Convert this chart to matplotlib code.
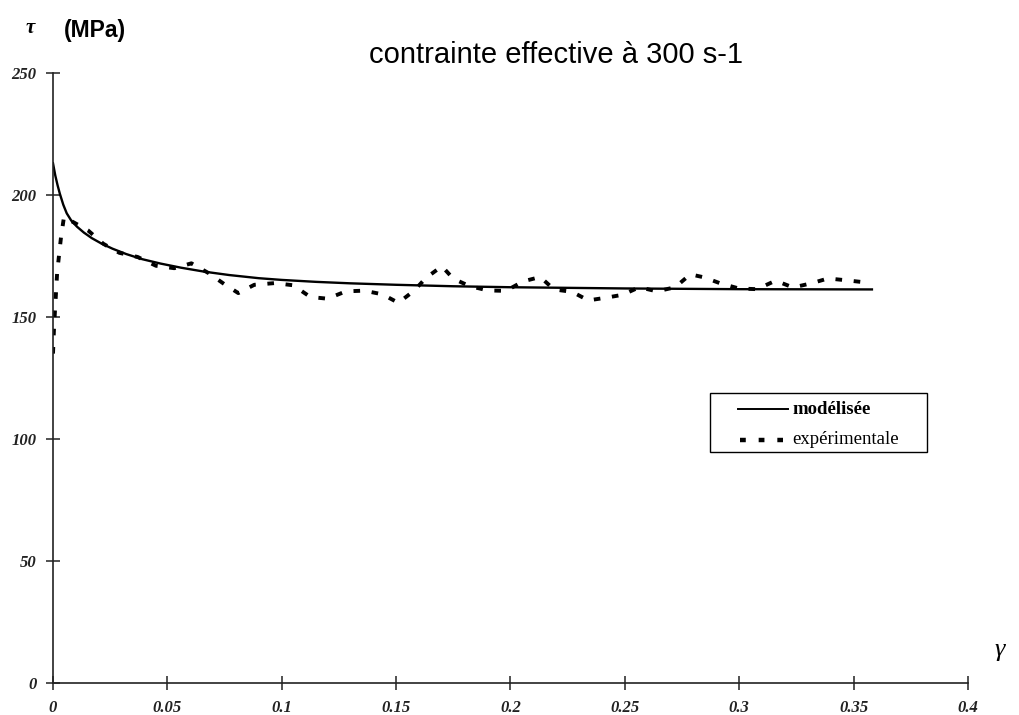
import matplotlib
matplotlib.use("Agg")
import matplotlib.pyplot as plt
from matplotlib.lines import Line2D
from matplotlib.patches import Rectangle

# ---- data ----
model_gamma = [0.0, 0.001, 0.002, 0.003, 0.0045, 0.006, 0.008, 0.0105, 0.0135,
               0.017, 0.021, 0.026, 0.032, 0.039, 0.047, 0.056, 0.066, 0.077,
               0.09, 0.1, 0.115, 0.13, 0.15, 0.175, 0.2, 0.25, 0.3, 0.358]
model_tau = [213.0, 208.0, 204.0, 200.5, 196.0, 192.5, 189.5, 187.0, 184.6,
             182.3, 180.2, 178.0, 175.8, 173.7, 171.9, 170.2, 168.6, 167.2,
             165.9, 165.2, 164.4, 163.8, 163.2, 162.6, 162.2, 161.7, 161.4, 161.3]

exp_gamma = [0.0, 0.0004, 0.0008, 0.0013, 0.0018, 0.0026, 0.0035, 0.0048,
             0.0153, 0.022, 0.029, 0.037, 0.045, 0.053, 0.0605, 0.068, 0.075,
             0.081, 0.088, 0.097, 0.105, 0.1125, 0.12, 0.128, 0.136, 0.144,
             0.151, 0.158, 0.163, 0.170, 0.175, 0.182, 0.19, 0.198, 0.2055,
             0.213, 0.219, 0.227, 0.234, 0.2417, 0.249, 0.2563, 0.264, 0.272,
             0.2786, 0.2848, 0.2917, 0.2998, 0.3078, 0.3159, 0.3235, 0.3315,
             0.3388, 0.3473, 0.3559]
exp_tau = [135.0, 144.5, 151.5, 159.7, 168.0, 175.0, 182.7, 191.0,
           185.5, 180.0, 176.3, 174.6, 171.0, 170.0, 172.0, 168.0, 163.4,
           159.8, 163.2, 163.9, 163.0, 158.2, 157.5, 160.5, 160.8, 159.3,
           155.8, 160.9, 166.0, 170.8, 165.7, 162.7, 160.9, 160.7, 164.6,
           166.4, 161.3, 160.3, 156.8, 157.9, 159.1, 162.2, 160.5, 162.2,
           167.5, 166.2, 163.8, 161.7, 161.4, 164.9, 162.1, 163.8,
           165.8, 165.0, 164.1]

x_ticks = [0, 0.05, 0.1, 0.15, 0.2, 0.25, 0.3, 0.35, 0.4]
x_ticklabels = ["0", "0.05", "0.1", "0.15", "0.2", "0.25", "0.3", "0.35", "0.4"]
y_ticks = [0, 50, 100, 150, 200, 250]
y_ticklabels = ["0", "50", "100", "150", "200", "250"]

title = "contrainte effective à 300 s-1"
label_model = "modélisée"
label_exp = "expérimentale"

# ---- figure ----
W, H = 1019, 715
fig = plt.figure(figsize=(W / 100, H / 100), dpi=100)
ax = fig.add_axes([53 / W, 1 - 683 / H, (968 - 53) / W, (683 - 73) / H])

ax.plot(model_gamma, model_tau, color="black", lw=1.7, solid_joinstyle="round")
ax.plot(exp_gamma, exp_tau, color="black", lw=2.8,
        dashes=(1.7, 3.0), dash_capstyle="butt")

ax.set_xlim(0, 0.4)
ax.set_ylim(0, 250)
for s in ("top", "right"):
    ax.spines[s].set_visible(False)
for s in ("left", "bottom"):
    ax.spines[s].set_linewidth(1.2)
    ax.spines[s].set_color("#222222")

tick_font = dict(family="Liberation Serif", weight="bold", style="italic", size=12)
ax.set_xticks(x_ticks)
ax.set_xticklabels(x_ticklabels, fontdict=tick_font)
ax.set_yticks(y_ticks)
ax.set_yticklabels(y_ticklabels, fontdict=tick_font)
ax.tick_params(axis="both", direction="inout", length=10, width=1.1, colors="#222222")
ax.tick_params(axis="x", pad=7)
ax.tick_params(axis="y", pad=7)

# axis labels / title
fig.text(30 / W, 1 - 28 / H, "τ", family="Liberation Serif", style="italic",
         weight="bold", size=15, ha="center", va="center")
fig.text(64 / W, 1 - 30 / H, "(MPa)", family="Liberation Sans", weight="bold",
         size=16.5, ha="left", va="center")
fig.text(556 / W, 1 - 55 / H, title, family="Liberation Sans", size=21,
         ha="center", va="center")
fig.text(1000 / W, 1 - 650 / H, "γ", family="Liberation Serif", style="italic",
         size=19, ha="center", va="center")

# legend (drawn in figure pixel coordinates)
def fx(px):
    return px / W

def fy(py):
    return 1 - py / H

fig.add_artist(Rectangle((fx(710), fy(452)), (927 - 710) / W, (452 - 393) / H,
                         transform=fig.transFigure, fill=True, facecolor="white",
                         edgecolor="black", lw=1.0, zorder=5))
fig.add_artist(Line2D([fx(738), fx(788)], [fy(409), fy(409)], color="black",
                      lw=1.4, transform=fig.transFigure, zorder=6))
fig.add_artist(Line2D([fx(740), fx(783)], [fy(440), fy(440)], color="black",
                      lw=3.2, dashes=(1.3, 2.9), dash_capstyle="butt",
                      transform=fig.transFigure, zorder=6))
fig.text(fx(792), fy(409), label_model, family="Liberation Serif", weight="bold",
         size=13.5, ha="left", va="center", zorder=6)
fig.text(fx(792), fy(440), label_exp, family="Liberation Serif",
         size=13.5, ha="left", va="center", zorder=6)

fig.savefig("out.png", dpi=100, facecolor="white")
